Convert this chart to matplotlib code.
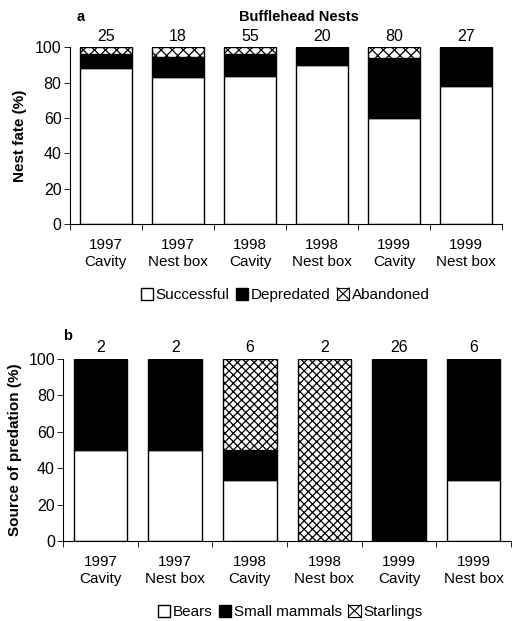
import numpy as np
import matplotlib
matplotlib.use("Agg")
import matplotlib.pyplot as plt
from matplotlib.patches import Patch, Rectangle
from matplotlib.lines import Line2D
from matplotlib.legend_handler import HandlerBase

plt.rcParams['font.family'] = ['Liberation Sans', 'DejaVu Sans']
plt.rcParams['hatch.linewidth'] = 0.9

categories = ["1997\nCavity", "1997\nNest box", "1998\nCavity",
              "1998\nNest box", "1999\nCavity", "1999\nNest box"]

# panel a: nest fate (%)
n_nests = [25, 18, 55, 20, 80, 27]
successful = [88.0, 83.3, 83.6, 90.0, 60.0, 77.8]
depredated = [8.0, 11.1, 12.7, 10.0, 33.75, 22.2]
abandoned = [4.0, 5.6, 3.6, 0.0, 6.25, 0.0]

# panel b: source of predation (%)
n_pred = [2, 2, 6, 2, 26, 6]
bears = [50.0, 50.0, 33.3, 0.0, 0.0, 33.3]
small_mammals = [50.0, 50.0, 16.7, 0.0, 100.0, 66.7]
starlings = [0.0, 0.0, 50.0, 100.0, 0.0, 0.0]


class XBox(HandlerBase):
    # legend key: box with a single X in it
    def create_artists(self, legend, orig_handle, xdescent, ydescent,
                       width, height, fontsize, trans):
        x0, y0 = -xdescent, -ydescent
        r = Rectangle((x0, y0), width, height, fc='white', ec='black',
                      lw=0.8, transform=trans)
        l1 = Line2D([x0, x0 + width], [y0, y0 + height], color='black',
                    lw=0.8, transform=trans)
        l2 = Line2D([x0, x0 + width], [y0 + height, y0], color='black',
                    lw=0.8, transform=trans)
        return [r, l1, l2]


fig = plt.figure(figsize=(5.14, 6.21), dpi=100)
ax1 = fig.add_axes([0.136, 0.639, 0.841, 0.285])
ax2 = fig.add_axes([0.123, 0.129, 0.871, 0.293])

x = np.arange(len(categories))
w = 0.72


def style(ax, ylabel):
    ax.set_xlim(-0.5, len(categories) - 0.5)
    ax.set_ylim(0, 100)
    ax.set_yticks([0, 20, 40, 60, 80, 100])
    ax.spines['top'].set_visible(False)
    ax.spines['right'].set_visible(False)
    ax.spines['left'].set_bounds(0, 100)
    ax.spines['left'].set_linewidth(0.8)
    ax.spines['bottom'].set_linewidth(0.8)
    ax.set_xticks(x)
    ax.set_xticklabels(categories, fontsize=11, linespacing=1.25)
    ax.tick_params(axis='x', length=0, pad=10)
    ax.set_xticks(np.arange(len(categories) + 1) - 0.5, minor=True)
    ax.tick_params(axis='x', which='minor', length=4, width=0.6)
    ax.tick_params(axis='y', labelsize=11.5, length=4, width=0.6, pad=2)
    ax.set_ylabel(ylabel, fontsize=11, fontweight='bold')


# panel a
ax1.bar(x, successful, w, color='white', edgecolor='black', linewidth=1.0)
ax1.bar(x, depredated, w, bottom=successful, color='black',
        edgecolor='black', linewidth=1.0)
bot = np.array(successful) + np.array(depredated)
for i in range(len(x)):
    if abandoned[i] > 0:
        ax1.bar(x[i], abandoned[i], w, bottom=bot[i], color='white',
                edgecolor='black', hatch='xxx', linewidth=1.0)
style(ax1, "Nest fate (%)")
ax1.yaxis.set_label_coords(-0.10, 0.5)
for i, n in enumerate(n_nests):
    ax1.text(x[i], 102, str(n), ha='center', va='bottom', fontsize=11.5)
ax1.text(0.53, 1.13, "Bufflehead Nests", transform=ax1.transAxes,
         ha='center', va='bottom', fontsize=10.5, fontweight='bold')
ax1.text(0.015, 1.13, "a", transform=ax1.transAxes,
         ha='left', va='bottom', fontsize=10.5, fontweight='bold')

# panel b
ax2.bar(x, bears, w, color='white', edgecolor='black', linewidth=1.0)
ax2.bar(x, small_mammals, w, bottom=bears, color='black',
        edgecolor='black', linewidth=1.0)
bot2 = np.array(bears) + np.array(small_mammals)
for i in range(len(x)):
    if starlings[i] > 0:
        ax2.bar(x[i], starlings[i], w, bottom=bot2[i], color='white',
                edgecolor='black', hatch='xxxx', linewidth=1.0)
style(ax2, "Source of predation (%)")
ax2.yaxis.set_label_coords(-0.092, 0.5)
for i, n in enumerate(n_pred):
    ax2.text(x[i], 102, str(n), ha='center', va='bottom', fontsize=11.5)
ax2.text(0.0, 1.09, "b", transform=ax2.transAxes,
         ha='left', va='bottom', fontsize=10.5, fontweight='bold')

leg_kw = dict(ncol=3, frameon=False, fontsize=11, handlelength=0.8,
              handleheight=0.8, handletextpad=0.15, columnspacing=0.45,
              loc='center')
ab = Patch(facecolor='white', edgecolor='black', label='Abandoned')
st = Patch(facecolor='white', edgecolor='black', label='Starlings')
fig.legend(handles=[Patch(facecolor='white', edgecolor='black', label='Successful'),
                    Patch(facecolor='black', edgecolor='black', label='Depredated'),
                    ab],
           handler_map={ab: XBox()},
           bbox_to_anchor=(285 / 514, 1 - 295 / 621), **leg_kw)
fig.legend(handles=[Patch(facecolor='white', edgecolor='black', label='Bears'),
                    Patch(facecolor='black', edgecolor='black', label='Small mammals'),
                    st],
           handler_map={st: XBox()},
           bbox_to_anchor=(290 / 514, 1 - 612 / 621), **leg_kw)

fig.savefig("out.png", dpi=100)
